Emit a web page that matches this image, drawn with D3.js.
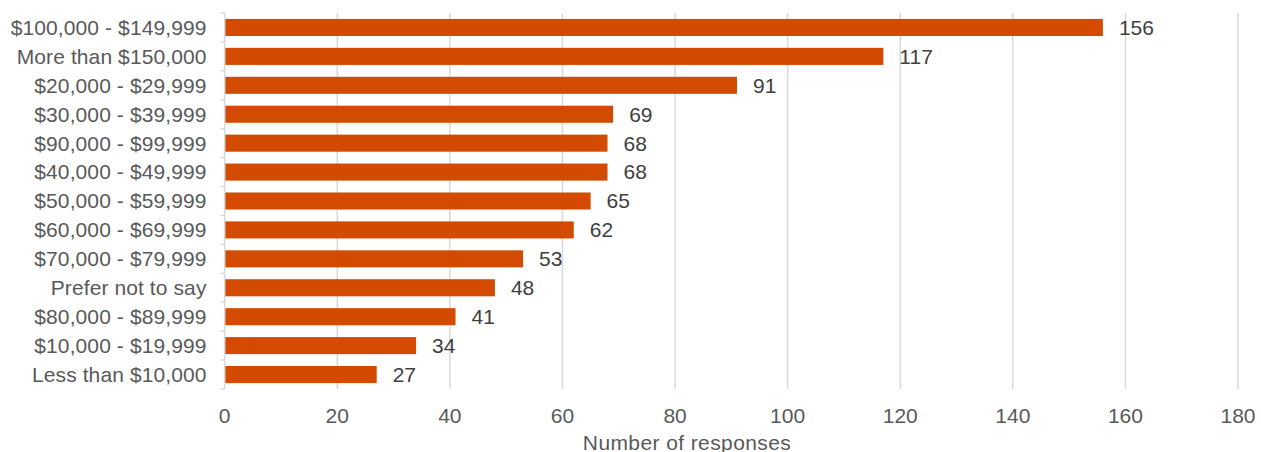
<!DOCTYPE html>
<html><head><meta charset="utf-8">
<script src="https://cdn.jsdelivr.net/npm/d3@7"></script>
<style>body{margin:0;background:#fff}svg{display:block}text{font-family:"Liberation Sans",Arial,sans-serif}</style>
</head><body><svg id="c" width="1261" height="452"></svg>
<script>
const categories = ["$100,000 - $149,999","More than $150,000","$20,000 - $29,999","$30,000 - $39,999","$90,000 - $99,999","$40,000 - $49,999","$50,000 - $59,999","$60,000 - $69,999","$70,000 - $79,999","Prefer not to say","$80,000 - $89,999","$10,000 - $19,999","Less than $10,000"];
const values = [156,117,91,69,68,68,65,62,53,48,41,34,27];
const xTicks = [0,20,40,60,80,100,120,140,160,180];
const xTitle = "Number of responses";

const svg = d3.select("#c");
const x = d3.scaleLinear().domain([0,180]).range([224.7,1238]);
const y = d3.scaleBand().domain(categories).range([13,389]).paddingInner(0.41).paddingOuter(0.205);

// gridlines
svg.append("g").selectAll("line").data(xTicks.slice(1)).join("line")
  .attr("x1",d=>x(d)).attr("x2",d=>x(d)).attr("y1",13).attr("y2",389)
  .attr("stroke","#d9d9d9").attr("stroke-width",1.5);

// bars
svg.append("g").selectAll("rect").data(values).join("rect")
  .attr("x",x(0)).attr("y",(d,i)=>y(categories[i]))
  .attr("width",d=>x(d)-x(0)).attr("height",y.bandwidth())
  .attr("fill","#d24b00");

// left axis line and boundary ticks
const bounds = d3.range(categories.length+1).map(i=>13 + i*(376/categories.length));
svg.append("line").attr("x1",x(0)).attr("x2",x(0)).attr("y1",13).attr("y2",389)
  .attr("stroke","#d9d9d9").attr("stroke-width",1.5);
svg.append("g").selectAll("line").data(bounds).join("line")
  .attr("x1",x(0)-4).attr("x2",x(0)).attr("y1",d=>d).attr("y2",d=>d)
  .attr("stroke","#d9d9d9").attr("stroke-width",1.5);

// category labels
svg.append("g").selectAll("text").data(categories).join("text")
  .attr("x",206.5).attr("y",d=>y(d)+y.bandwidth()/2).attr("dy","0.35em")
  .attr("text-anchor","end").attr("font-size",21).attr("letter-spacing","0.1px").attr("fill","#595959").text(d=>d);

// value labels
svg.append("g").selectAll("text").data(values).join("text")
  .attr("x",d=>x(d)+16).attr("y",(d,i)=>y(categories[i])+y.bandwidth()/2).attr("dy","0.35em")
  .attr("font-size",21).attr("fill","#404040").text(d=>d);

// x tick labels
svg.append("g").selectAll("text").data(xTicks).join("text")
  .attr("x",d=>x(d)).attr("y",415.5).attr("dy","0.35em").attr("text-anchor","middle")
  .attr("font-size",21).attr("fill","#595959").text(d=>d);

svg.append("text").attr("x",687).attr("y",443).attr("dy","0.35em").attr("text-anchor","middle")
  .attr("font-size",21).attr("letter-spacing","0.4px").attr("fill","#595959").text(xTitle);
</script></body></html>
